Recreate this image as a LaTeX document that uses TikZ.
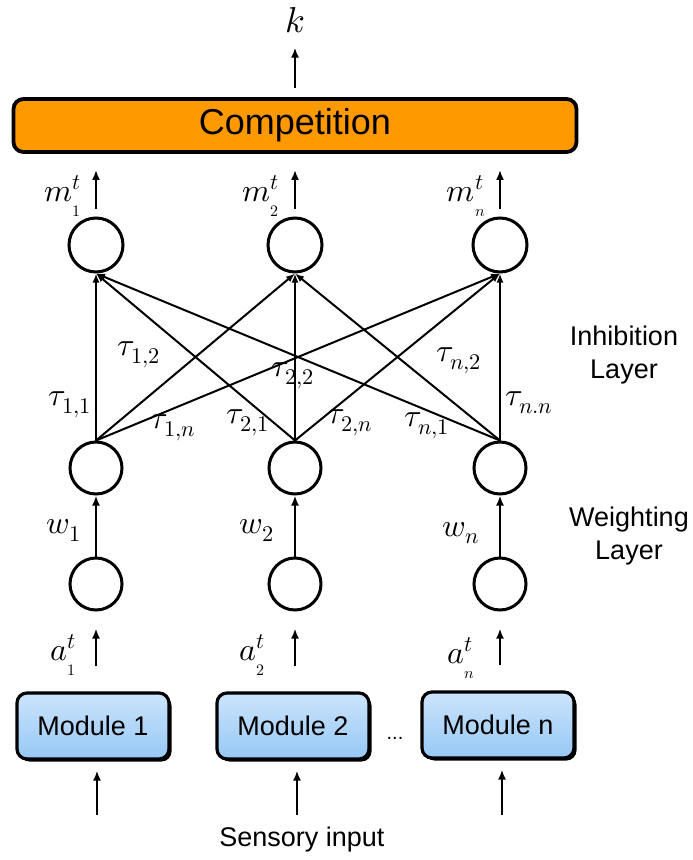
\documentclass[tikz,border=0pt]{standalone}
\usepackage{fontspec}
\usepackage{unicode-math}
\setsansfont{Liberation Sans}
\setmathfont{Latin Modern Math}
\usetikzlibrary{arrows.meta,calc,shadows}

\definecolor{compfill}{RGB}{255,153,0}
\definecolor{modtop}{RGB}{204,228,252}
\definecolor{modbot}{RGB}{150,200,245}

% sub/superscripted symbol with the small index pushed down
\newcommand{\tlab}[2]{$#1^{t}_{\raisebox{-0.5ex}{$\scriptscriptstyle #2$}}$}

\tikzset{
	unit/.style={circle, draw, line width=3pt, minimum size=54pt, inner sep=0pt},
	arr/.style={-{Latex[length=10pt,width=8pt]}, line width=2.8pt},
	inh/.style={-{Latex[length=9pt,width=7pt]}, line width=2pt},
	modbox/.style={draw, rounded corners=10pt, line width=3.2pt, top color=modtop, bottom color=modbot,
		minimum width=152pt, minimum height=66pt, font=\sffamily\fontsize{27}{30}\selectfont,
		drop shadow={shadow xshift=2.5pt, shadow yshift=-2.5pt, fill=black, opacity=1}},
	lbl/.style={font=\fontsize{32}{34}\selectfont, inner sep=0pt},
	txt/.style={font=\sffamily\fontsize{27}{33}\selectfont, align=center, inner sep=0pt}
}

\begin{document}
\begin{tikzpicture}[x=1pt, y=-1pt]
			\useasboundingbox (0,0) rectangle (693,860);
			
			%%%%% OUTPUT %%%%%
			\node[lbl, font=\fontsize{36}{38}\selectfont, anchor=base] (k) at (295,32) {$k$};
			\node[draw, line width=3.8pt, rounded corners=10pt, fill=compfill, minimum width=563pt, minimum height=53pt,
				font=\sffamily\fontsize{36}{40}\selectfont] (comp) at (295,125.5) {Competition};
			\draw[arr, shorten <=9pt, shorten >=15pt] (comp.north) -- (k.south);
			
			%%%%% INHIBITION LAYER %%%%%
			\node[unit] (o1) at (96,245) {};
			\node[unit] (o2) at (295,245) {};
			\node[unit] (on) at (500,245) {};
			
			\draw[arr, shorten <=8pt, shorten >=16pt] (o1) -- (o1 |- comp.south);
			\draw[arr, shorten <=8pt, shorten >=16pt] (o2) -- (o2 |- comp.south);
			\draw[arr, shorten <=8pt, shorten >=16pt] (on) -- (on |- comp.south);
			
			\node[lbl] (m1) at (63,196) {\tlab{m}{1}};
			\node[lbl] (m2) at (261,196) {\tlab{m}{2}};
			\node[lbl] (mn) at (466,196) {\tlab{m}{n}};
			
			%%%%% WEIGHTING LAYER %%%%%
			\node[unit, minimum size=52pt] (h1) at (96,468) {};
			\node[unit, minimum size=52pt] (h2) at (295,468) {};
			\node[unit, minimum size=52pt] (hn) at (500,468) {};
			
			% every weighted unit inhibits every output unit
			\draw[inh] (h1.north) -- (o1.south);
			\draw[inh] (h1.north) -- (o2.south);
			\draw[inh] (h1.north) -- (on.south);
			\draw[inh] (h2.north) -- (o1.south);
			\draw[inh] (h2.north) -- (o2.south);
			\draw[inh] (h2.north) -- (on.south);
			\draw[inh] (hn.north) -- (o1.south);
			\draw[inh] (hn.north) -- (o2.south);
			\draw[inh] (hn.north) -- (on.south);
			
			\node[lbl] (t11) at (70,405) {$\tau_{1,1}$};
			\node[lbl] (t12) at (139,355) {$\tau_{1,2}$};
			\node[lbl] (t1n) at (173,428) {$\tau_{1,n}$};
			\node[lbl] (t21) at (248,423) {$\tau_{2,1}$};
			\node[lbl] (t22) at (293,376) {$\tau_{2,2}$};
			\node[lbl] (t2n) at (350,423) {$\tau_{2,n}$};
			\node[lbl] (tn1) at (427,426) {$\tau_{n,1}$};
			\node[lbl] (tn2) at (459,361) {$\tau_{n,2}$};
			\node[lbl] (tnn) at (529,403) {$\tau_{n.n}$};
			
			%%%%% INPUT UNITS %%%%%
			\node[unit, minimum size=52pt] (b1) at (96,584) {};
			\node[unit, minimum size=52pt] (b2) at (295,584) {};
			\node[unit, minimum size=52pt] (bn) at (500,584) {};
			
			\draw[arr] (b1) -- (h1);
			\draw[arr] (b2) -- (h2);
			\draw[arr] (bn) -- (hn);
			
			\node[lbl] (w1) at (64,530) {$w_1$};
			\node[lbl] (w2) at (257,530) {$w_2$};
			\node[lbl] (wn) at (461,533) {$w_n$};
			
			%%%%% MODULES %%%%%
			\node[modbox] (mod1) at (93,726) {Module 1};
			\node[modbox] (mod2) at (293,726) {Module 2};
			\node[modbox] (modn) at (498,725) {Module n};
			\node[font=\sffamily\fontsize{20}{20}\selectfont] (dots) at (395,738) {...};
			
			\draw[arr, shorten <=25pt, shorten >=17pt] (mod1.north -| b1) -- (b1);
			\draw[arr, shorten <=25pt, shorten >=17pt] (mod2.north -| b2) -- (b2);
			\draw[arr, shorten <=25pt, shorten >=17pt] (modn.north -| bn) -- (bn);
			
			\node[lbl] (a1) at (63,655) {\tlab{a}{1}};
			\node[lbl] (a2) at (252,655) {\tlab{a}{2}};
			\node[lbl] (an) at (461,658) {\tlab{a}{n}};
			
			\coordinate (in1) at (97,815);
			\coordinate (in2) at (297,815);
			\coordinate (inn) at (502,815);
			\draw[arr, shorten >=10pt] (in1) -- (in1 |- mod1.south);
			\draw[arr, shorten >=10pt] (in2) -- (in2 |- mod2.south);
			\draw[arr, shorten >=10pt] (inn) -- (inn |- modn.south);
			
			\node[txt] (sens) at (302,840) {Sensory input};
			\node[txt] (inhib) at (624,355) {Inhibition\\Layer};
			\node[txt] (weight) at (629,536) {Weighting\\Layer};
		\end{tikzpicture}
\end{document}
